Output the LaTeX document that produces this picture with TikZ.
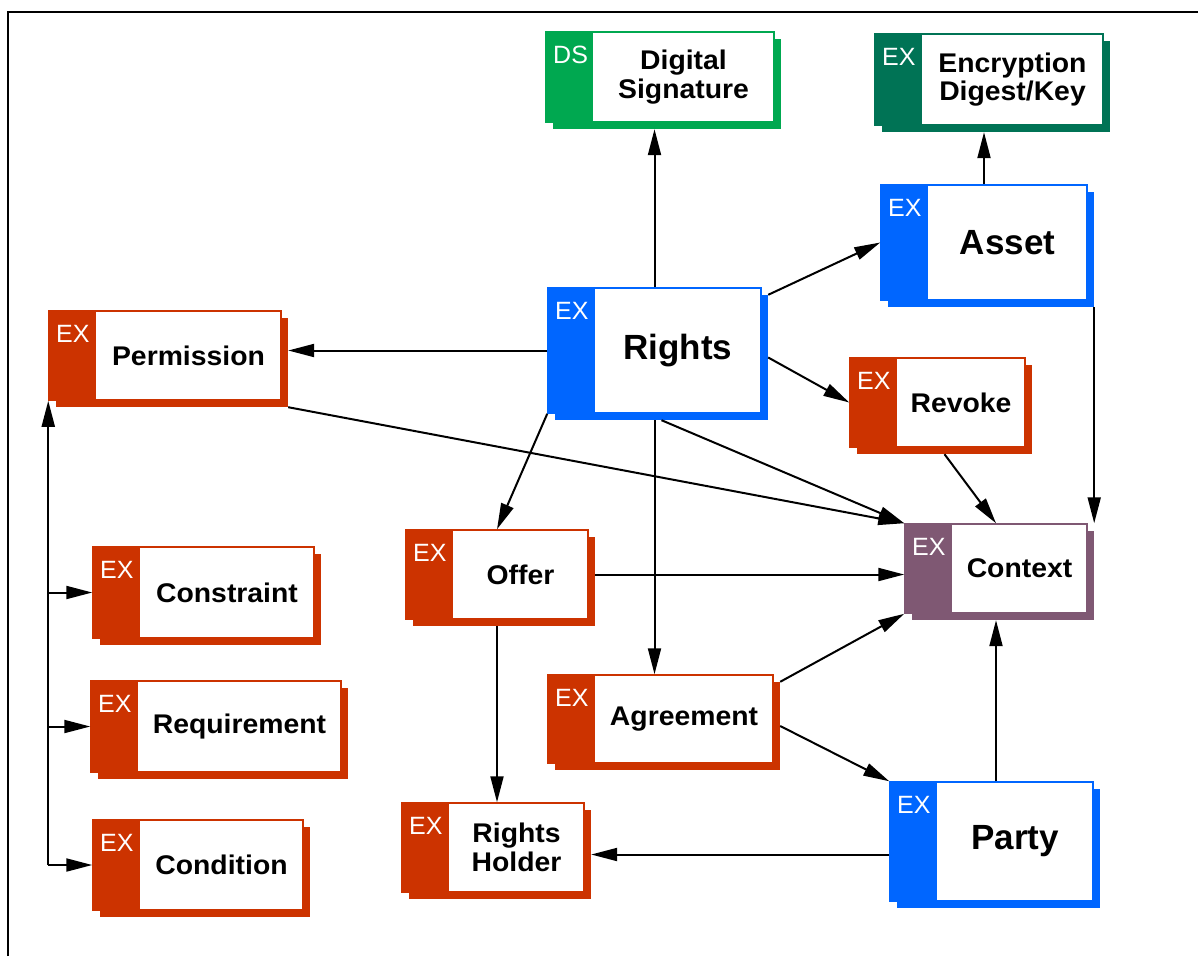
\documentclass[tikz,border=0pt]{standalone}
\usepackage{fontspec}
\setmainfont{Liberation Sans}
\newfontfamily\labfont[FakeStretch=1.05]{Liberation Sans}
\usetikzlibrary{arrows.meta,fit}

\definecolor{exred}{RGB}{204,51,0}
\definecolor{exblue}{RGB}{0,102,255}
\definecolor{dsgreen}{RGB}{0,168,80}
\definecolor{exgreen}{RGB}{0,115,85}
\definecolor{expurple}{RGB}{127,88,115}

\tikzset{
  boxshadow/.style={fill=#1, inner sep=0pt, rectangle},
  boxfront/.style={draw=#1, fill=white, line width=1.5pt, inner sep=0pt, rectangle},
  boxstrip/.style={fill=#1, inner sep=0pt, rectangle},
  boxtag/.style={text=white, font=\fontsize{25}{25}\selectfont, inner sep=0pt},
  smalltext/.style={font=\labfont\bfseries\fontsize{27}{28.5}\selectfont, align=center, inner sep=0pt},
  bigtext/.style={font=\bfseries\fontsize{35}{36}\selectfont, align=center, inner sep=0pt},
  conn/.style={line width=2pt, -{Triangle[length=26pt,width=13pt]}},
}

% #1 name, #2 colour, #3 tag, #4 left, #5 top, #6 right, #7 bottom, #8 text style, #9 text
\newcommand\rbox[9]{%
  \node[boxshadow=#2, fit={(#4+7,#5+7) (#6+7,#7+7)}] (#1-sh) {};
  \node[boxfront=#2, fit={(#4,#5) (#6,#7)}] (#1) {};
  \node[boxstrip=#2, fit={(#4,#5) (#4+47,#7)}] (#1-strip) {};
  \node[boxtag, anchor=north west] (#1-tag) at (#4+7,#5+14) {#3};
  \node[#8] (#1-text) at ({(#4+47+#6)/2},{(#5+#7)/2}) {#9};
}

\begin{document}
\begin{tikzpicture}[x=1pt, y=-1pt]
\useasboundingbox (0,0) rectangle (1198,956);
\fill[white] (0,0) rectangle (1198,956);

% outer frame
\draw[line width=2.5pt] (8,956) -- (8,12) -- (1198,12);

% boxes
\rbox{ds}{dsgreen}{DS}{546}{32}{774}{122}{smalltext}{Digital\\Signature}
\rbox{enc}{exgreen}{EX}{875}{34}{1103}{125}{smalltext}{Encryption\\Digest/Key}
\rbox{asset}{exblue}{EX}{881}{185}{1087}{300}{bigtext}{Asset}
\rbox{rights}{exblue}{EX}{548}{288}{761}{413}{bigtext}{Rights}
\rbox{perm}{exred}{EX}{49}{311}{281}{400}{smalltext}{Permission}
\rbox{revoke}{exred}{EX}{850}{358}{1025}{447}{smalltext}{Revoke}
\rbox{offer}{exred}{EX}{406}{530}{588}{619}{smalltext}{Offer}
\rbox{context}{expurple}{EX}{905}{524}{1087}{613}{smalltext}{Context}
\rbox{cons}{exred}{EX}{93}{547}{314}{638}{smalltext}{Constraint}
\rbox{agree}{exred}{EX}{548}{675}{773}{763}{smalltext}{Agreement}
\rbox{req}{exred}{EX}{91}{681}{341}{772}{smalltext}{Requirement}
\rbox{rh}{exred}{EX}{402}{803}{584}{892}{smalltext}{Rights\\Holder}
\rbox{party}{exblue}{EX}{890}{782}{1093}{901}{bigtext}{Party}
\rbox{cond}{exred}{EX}{93}{820}{303}{910}{smalltext}{Condition}

% connectors from Rights
\draw[conn] (rights.north) -- (rights.north |- ds-sh.south);
\draw[conn] (rights.west) -- (perm-sh.east |- rights.west);
\draw[conn] (rights-sh.north east) -- (asset.west);
\draw[conn] (rights-sh.east) -- (revoke.west);
\draw[conn] (rights-sh.south) -- (context.north west);
\draw[conn] (rights.south west) -- (offer.north);
\draw[conn] (rights-sh.south -| rights.north) -- (rights.north |- agree.north);

% connectors from Asset
\draw[conn] (asset.north) -- (asset.north |- enc-sh.south);
\draw[conn] (asset-sh.south east) -- (asset-sh.south east |- context.north);

% other connectors into Context
\draw[conn] (revoke-sh.south) -- (context.north);
\draw[conn] (perm-sh.south east) -- (context.north west);
\draw[conn] (offer-sh.east |- offer.east) -- (context.west |- offer.east);
\draw[conn] (agree-sh.north east) -- (context.south west);
\draw[conn] (party.north -| context.south) -- (context-sh.south -| context.south);

% Offer, Agreement, Party
\draw[conn] (offer.south |- offer-sh.south) -- (offer.south |- rh.north);
\draw[conn] (agree-sh.east) -- (party.north west);
\draw[conn] (party.west |- rh-sh.east) -- (rh-sh.east);

% Permission bus to its parts
\draw[conn] (perm.south west |- cond.west) -- (perm.south west);
\draw[conn] (perm.south west |- cons.west) -- (cons.west);
\draw[conn] (perm.south west |- req.west) -- (req.west);
\draw[conn] (perm.south west |- cond.west) -- (cond.west);
\end{tikzpicture}
\end{document}
